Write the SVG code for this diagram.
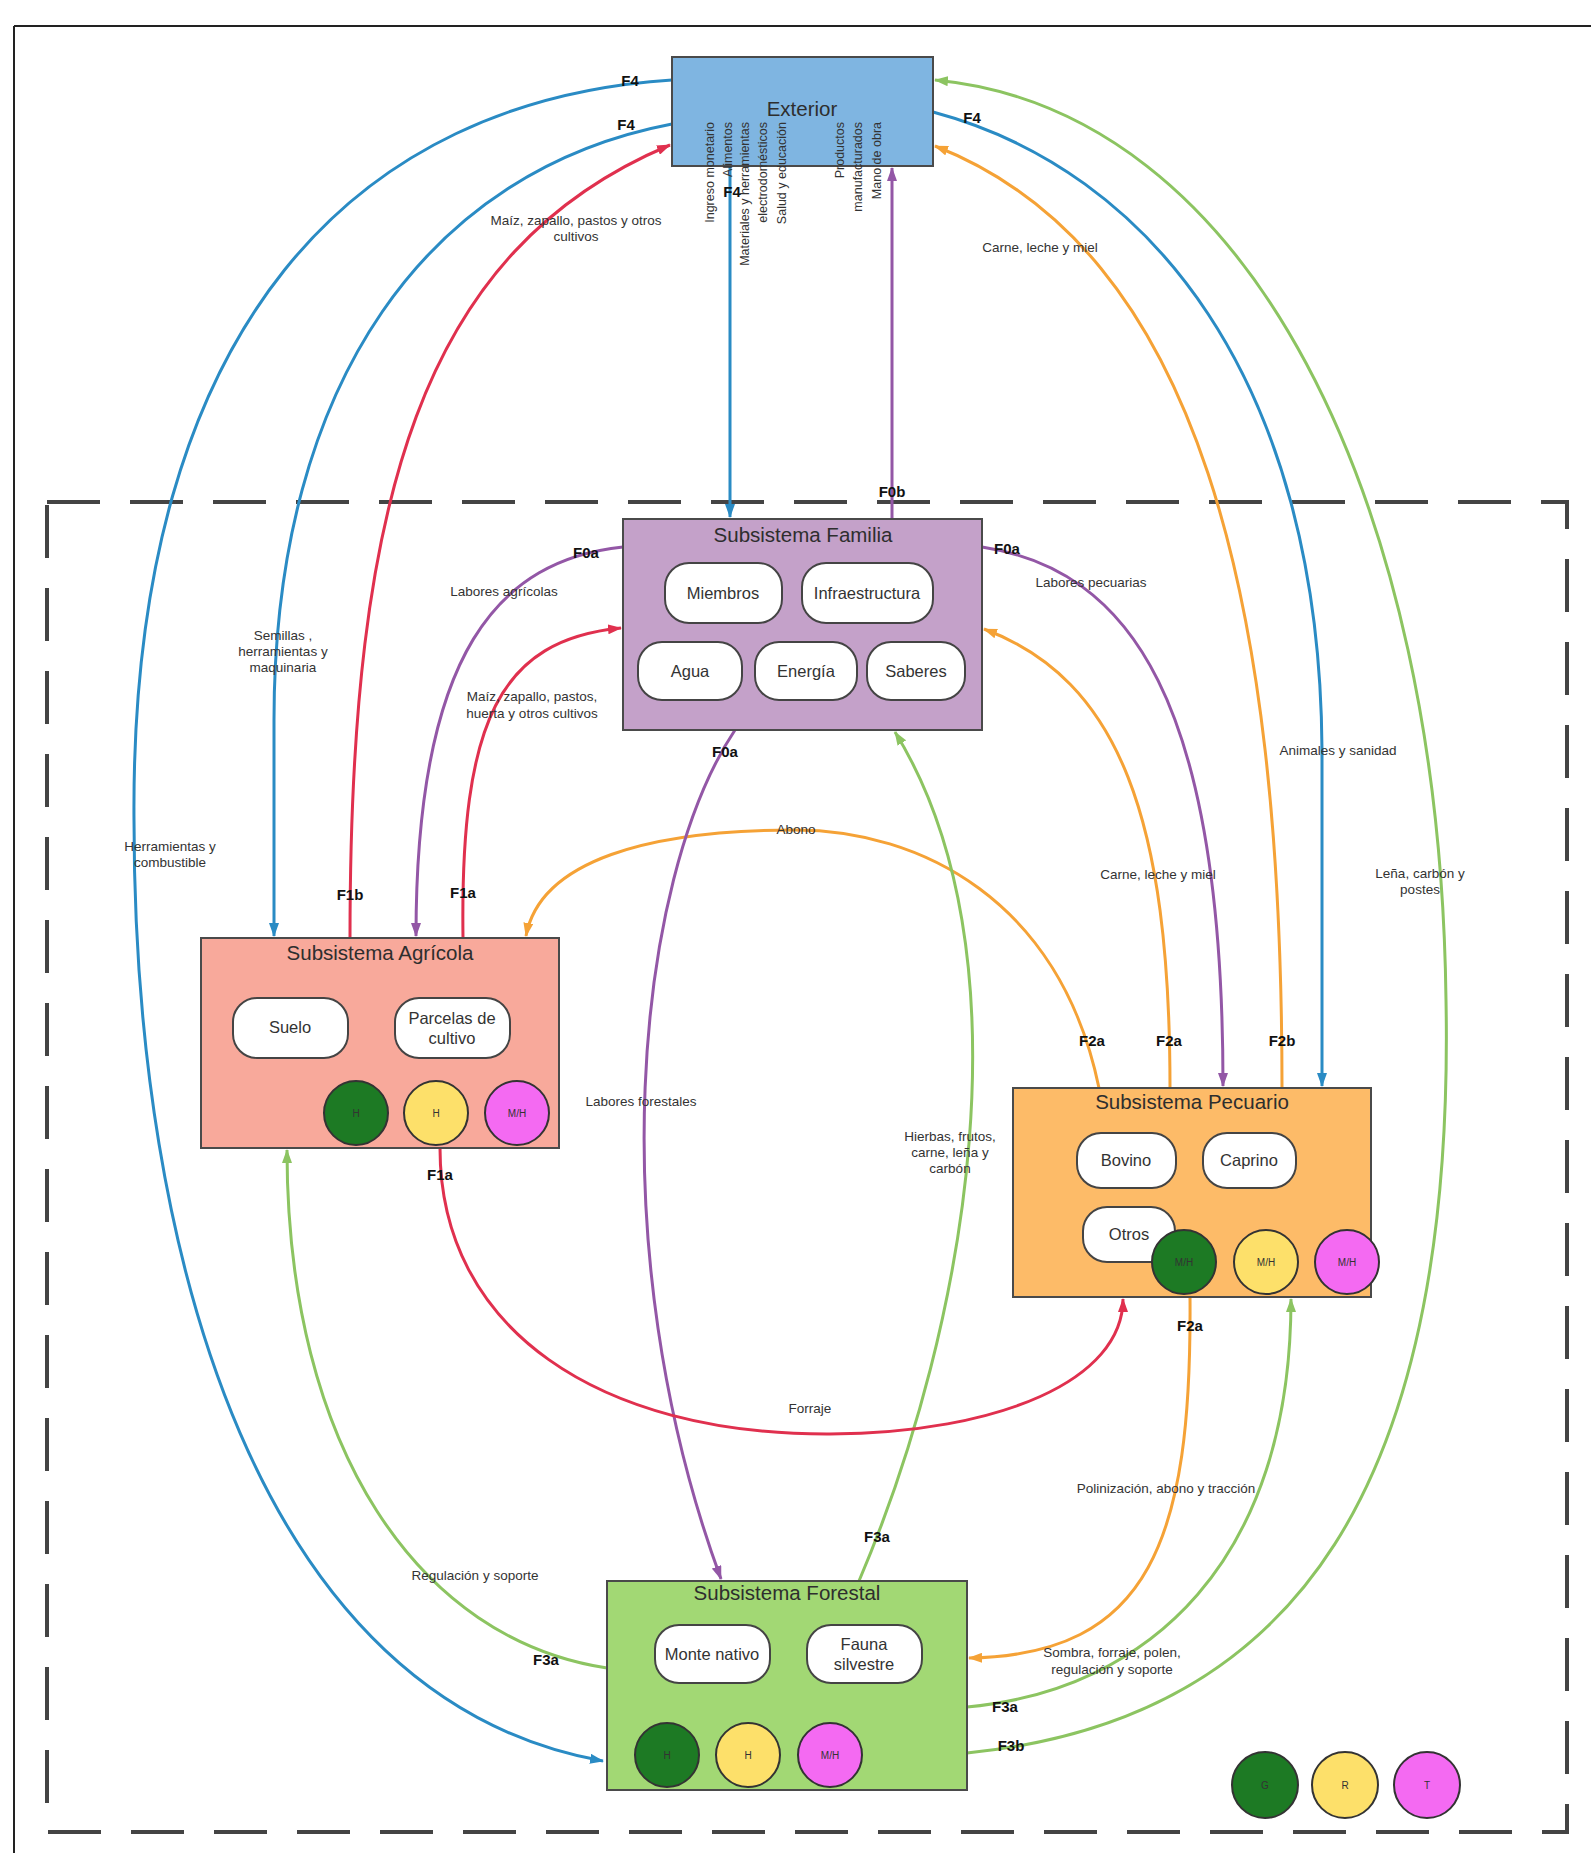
<svg xmlns="http://www.w3.org/2000/svg" width="1591" height="1853" viewBox="0 0 1591 1853">
<style>
text{font-family:"Liberation Sans",Arial,sans-serif;}
.box{stroke:#4a4a4a;stroke-width:2;}
.pill{fill:#fff;stroke:#444;stroke-width:2;}
.title{font-size:20.5px;fill:#2e2e2e;text-anchor:middle;}
.pt{font-size:16.5px;fill:#333;text-anchor:middle;}
.fl{font-size:15px;font-weight:bold;fill:#111;text-anchor:middle;}
.el{font-size:13.5px;fill:#333;text-anchor:middle;}
.vt{font-size:12.5px;fill:#333;text-anchor:end;}
.cl{font-size:10px;text-anchor:middle;fill:#333;}
.c{fill:none;stroke-width:3;}
.b{stroke:#2a8bc4;}
.r{stroke:#e0304e;}
.p{stroke:#9357a6;}
.o{stroke:#f5a236;}
.g{stroke:#8cc461;}
.cg{fill:#1d7a24;stroke:#333;stroke-width:2;}
.cy{fill:#fde06a;stroke:#333;stroke-width:2;}
.cp{fill:#f46af2;stroke:#333;stroke-width:2;}
</style>
<defs>
<marker id="ab" markerUnits="userSpaceOnUse" markerWidth="14" markerHeight="10" refX="13" refY="5" orient="auto"><path d="M0,0 L14,5 L0,10 z" fill="#2a8bc4"/></marker>
<marker id="ar" markerUnits="userSpaceOnUse" markerWidth="14" markerHeight="10" refX="13" refY="5" orient="auto"><path d="M0,0 L14,5 L0,10 z" fill="#e0304e"/></marker>
<marker id="ap" markerUnits="userSpaceOnUse" markerWidth="14" markerHeight="10" refX="13" refY="5" orient="auto"><path d="M0,0 L14,5 L0,10 z" fill="#9357a6"/></marker>
<marker id="ao" markerUnits="userSpaceOnUse" markerWidth="14" markerHeight="10" refX="13" refY="5" orient="auto"><path d="M0,0 L14,5 L0,10 z" fill="#f5a236"/></marker>
<marker id="ag" markerUnits="userSpaceOnUse" markerWidth="14" markerHeight="10" refX="13" refY="5" orient="auto"><path d="M0,0 L14,5 L0,10 z" fill="#8cc461"/></marker>
</defs>
<rect width="1591" height="1853" fill="#fff"/>
<path d="M14,26 H1591 M14,26 V1853" stroke="#222" stroke-width="2" fill="none"/>
<rect x="47" y="502" width="1520" height="1330" fill="none" stroke="#444" stroke-width="4" stroke-dasharray="53,30"/>

<g id="connectors">
<path class="c b" d="M672,80 C360,100 130,320 134,820 C134,1260 260,1700 603,1761" marker-end="url(#ab)"/>
<path class="c b" d="M672,124 C430,170 274,380 274,720 L274,936" marker-end="url(#ab)"/>
<path class="c r" d="M350,938 C350,500 420,250 670,145" marker-end="url(#ar)"/>
<path class="c b" d="M730,166 L730,517" marker-end="url(#ab)"/>
<path class="c p" d="M892,519 L892,168" marker-end="url(#ap)"/>
<path class="c g" d="M967,1753 C1300,1720 1455,1480 1446,1000 C1440,500 1250,110 935,80" marker-end="url(#ag)"/>
<path class="c b" d="M933,112 C1150,170 1320,380 1322,750 L1322,1086" marker-end="url(#ab)"/>
<path class="c o" d="M1282,1088 C1282,600 1200,250 935,146" marker-end="url(#ao)"/>
<path class="c p" d="M623,547 C500,560 416,650 416,936" marker-end="url(#ap)"/>
<path class="c r" d="M463,938 C460,720 500,640 621,628" marker-end="url(#ar)"/>
<path class="c p" d="M982,547 C1130,570 1223,700 1223,1086" marker-end="url(#ap)"/>
<path class="c o" d="M1170,1088 C1170,820 1120,680 984,629" marker-end="url(#ao)"/>
<path class="c o" d="M1099,1088 C1060,900 920,830 795,830 C650,830 540,860 526,936" marker-end="url(#ao)"/>
<path class="c p" d="M735,730 C635,880 600,1250 721,1579" marker-end="url(#ap)"/>
<path class="c g" d="M859,1581 C970,1320 1030,950 895,732" marker-end="url(#ag)"/>
<path class="c r" d="M440,1148 C440,1330 600,1435 830,1434 C1000,1433 1123,1380 1123,1299" marker-end="url(#ar)"/>
<path class="c o" d="M1190,1297 C1192,1540 1150,1655 969,1658" marker-end="url(#ao)"/>
<path class="c g" d="M967,1707 C1150,1690 1291,1560 1291,1299" marker-end="url(#ag)"/>
<path class="c g" d="M607,1668 C420,1640 287,1450 287,1150" marker-end="url(#ag)"/>

<text class="fl" x="630" y="86">F4</text>
<text class="fl" x="626" y="130">F4</text>
<text class="fl" x="732" y="197">F4</text>
<text class="fl" x="972" y="123">F4</text>
<text class="fl" x="892" y="497">F0b</text>
<text class="fl" x="586" y="558">F0a</text>
<text class="fl" x="1007" y="554">F0a</text>
<text class="fl" x="725" y="757">F0a</text>
<text class="fl" x="350" y="900">F1b</text>
<text class="fl" x="463" y="898">F1a</text>
<text class="fl" x="440" y="1180">F1a</text>
<text class="fl" x="1092" y="1046">F2a</text>
<text class="fl" x="1169" y="1046">F2a</text>
<text class="fl" x="1282" y="1046">F2b</text>
<text class="fl" x="1190" y="1331">F2a</text>
<text class="fl" x="877" y="1542">F3a</text>
<text class="fl" x="546" y="1665">F3a</text>
<text class="fl" x="1005" y="1712">F3a</text>
<text class="fl" x="1011" y="1751">F3b</text>

<text class="el" x="576" y="225">Maíz, zapallo, pastos y otros</text>
<text class="el" x="576" y="241">cultivos</text>
<text class="el" x="1040" y="252">Carne, leche y miel</text>
<text class="el" x="283" y="640">Semillas ,</text>
<text class="el" x="283" y="656">herramientas y</text>
<text class="el" x="283" y="672">maquinaria</text>
<text class="el" x="504" y="596">Labores agrícolas</text>
<text class="el" x="532" y="701">Maíz, zapallo, pastos,</text>
<text class="el" x="532" y="718">huerta y otros cultivos</text>
<text class="el" x="1091" y="587">Labores pecuarias</text>
<text class="el" x="1338" y="755">Animales y sanidad</text>
<text class="el" x="1158" y="879">Carne, leche y miel</text>
<text class="el" x="1420" y="878">Leña, carbón y</text>
<text class="el" x="1420" y="894">postes</text>
<text class="el" x="170" y="851">Herramientas y</text>
<text class="el" x="170" y="867">combustible</text>
<text class="el" x="796" y="834">Abono</text>
<text class="el" x="641" y="1106">Labores forestales</text>
<text class="el" x="950" y="1141">Hierbas, frutos,</text>
<text class="el" x="950" y="1157">carne, leña y</text>
<text class="el" x="950" y="1173">carbón</text>
<text class="el" x="810" y="1413">Forraje</text>
<text class="el" x="1166" y="1493">Polinización, abono y tracción</text>
<text class="el" x="475" y="1580">Regulación y soporte</text>
<text class="el" x="1112" y="1657">Sombra, forraje, polen,</text>
<text class="el" x="1112" y="1674">regulación y soporte</text>
</g>

<g id="exterior">
<rect class="box" x="672" y="57" width="261" height="109" fill="#7fb5e1"/>
<text x="802" y="116" font-size="20.5" fill="#2e2e2e" text-anchor="middle">Exterior</text>
<text class="vt" transform="translate(714,122) rotate(-90)">Ingreso monetario</text>
<text class="vt" transform="translate(732,122) rotate(-90)">Alimentos</text>
<text class="vt" transform="translate(749,122) rotate(-90)">Materiales y herramientas</text>
<text class="vt" transform="translate(767,122) rotate(-90)">electrodomésticos</text>
<text class="vt" transform="translate(786,122) rotate(-90)">Salud y educación</text>
<text class="vt" transform="translate(844,122) rotate(-90)">Productos</text>
<text class="vt" transform="translate(862,122) rotate(-90)">manufacturados</text>
<text class="vt" transform="translate(881,122) rotate(-90)">Mano de obra</text>
</g>

<g id="familia">
<rect class="box" x="623" y="519" width="359" height="211" fill="#c4a1c9"/>
<text class="title" x="803" y="542">Subsistema Familia</text>
<rect class="pill" x="665" y="563" width="117" height="60" rx="24"/>
<text class="pt" x="723" y="599">Miembros</text>
<rect class="pill" x="802" y="563" width="131" height="60" rx="24"/>
<text class="pt" x="867" y="599">Infraestructura</text>
<rect class="pill" x="638" y="642" width="104" height="58" rx="24"/>
<text class="pt" x="690" y="677">Agua</text>
<rect class="pill" x="755" y="642" width="102" height="58" rx="24"/>
<text class="pt" x="806" y="677">Energía</text>
<rect class="pill" x="867" y="642" width="98" height="58" rx="24"/>
<text class="pt" x="916" y="677">Saberes</text>
</g>

<g id="agricola">
<rect class="box" x="201" y="938" width="358" height="210" fill="#f8a99b"/>
<text class="title" x="380" y="960">Subsistema Agrícola</text>
<rect class="pill" x="233" y="998" width="115" height="60" rx="24"/>
<text class="pt" x="290" y="1033">Suelo</text>
<rect class="pill" x="395" y="998" width="115" height="60" rx="24"/>
<text class="pt" x="452" y="1024">Parcelas de</text>
<text class="pt" x="452" y="1044">cultivo</text>
<circle class="cg" cx="356" cy="1113" r="32"/>
<text class="cl" x="356" y="1117">H</text>
<circle class="cy" cx="436" cy="1113" r="32"/>
<text class="cl" x="436" y="1117">H</text>
<circle class="cp" cx="517" cy="1113" r="32"/>
<text class="cl" x="517" y="1117" fill="#7a2a8a">M/H</text>
</g>

<g id="pecuario">
<rect class="box" x="1013" y="1088" width="358" height="209" fill="#fdbb68"/>
<text class="title" x="1192" y="1109">Subsistema Pecuario</text>
<rect class="pill" x="1077" y="1133" width="99" height="55" rx="24"/>
<text class="pt" x="1126" y="1166">Bovino</text>
<rect class="pill" x="1203" y="1133" width="93" height="55" rx="24"/>
<text class="pt" x="1249" y="1166">Caprino</text>
<rect class="pill" x="1083" y="1207" width="92" height="55" rx="24"/>
<text class="pt" x="1129" y="1240">Otros</text>
<circle class="cg" cx="1184" cy="1262" r="32"/>
<text class="cl" x="1184" y="1266">M/H</text>
<circle class="cy" cx="1266" cy="1262" r="32"/>
<text class="cl" x="1266" y="1266">M/H</text>
<circle class="cp" cx="1347" cy="1262" r="32"/>
<text class="cl" x="1347" y="1266" fill="#7a2a8a">M/H</text>
</g>

<g id="forestal">
<rect class="box" x="607" y="1581" width="360" height="209" fill="#a2d874"/>
<text class="title" x="787" y="1600">Subsistema Forestal</text>
<rect class="pill" x="655" y="1625" width="115" height="58" rx="24"/>
<text class="pt" x="712" y="1660">Monte nativo</text>
<rect class="pill" x="807" y="1625" width="115" height="58" rx="24"/>
<text class="pt" x="864" y="1650">Fauna</text>
<text class="pt" x="864" y="1670">silvestre</text>
<circle class="cg" cx="667" cy="1755" r="32"/>
<text class="cl" x="667" y="1759">H</text>
<circle class="cy" cx="748" cy="1755" r="32"/>
<text class="cl" x="748" y="1759">H</text>
<circle class="cp" cx="830" cy="1755" r="32"/>
<text class="cl" x="830" y="1759" fill="#7a2a8a">M/H</text>
</g>

<g id="legend">
<circle class="cg" cx="1265" cy="1785" r="33"/>
<text class="cl" x="1265" y="1789">G</text>
<circle class="cy" cx="1345" cy="1785" r="33"/>
<text class="cl" x="1345" y="1789">R</text>
<circle class="cp" cx="1427" cy="1785" r="33"/>
<text class="cl" x="1427" y="1789" fill="#7a2a8a">T</text>
</g>
</svg>
